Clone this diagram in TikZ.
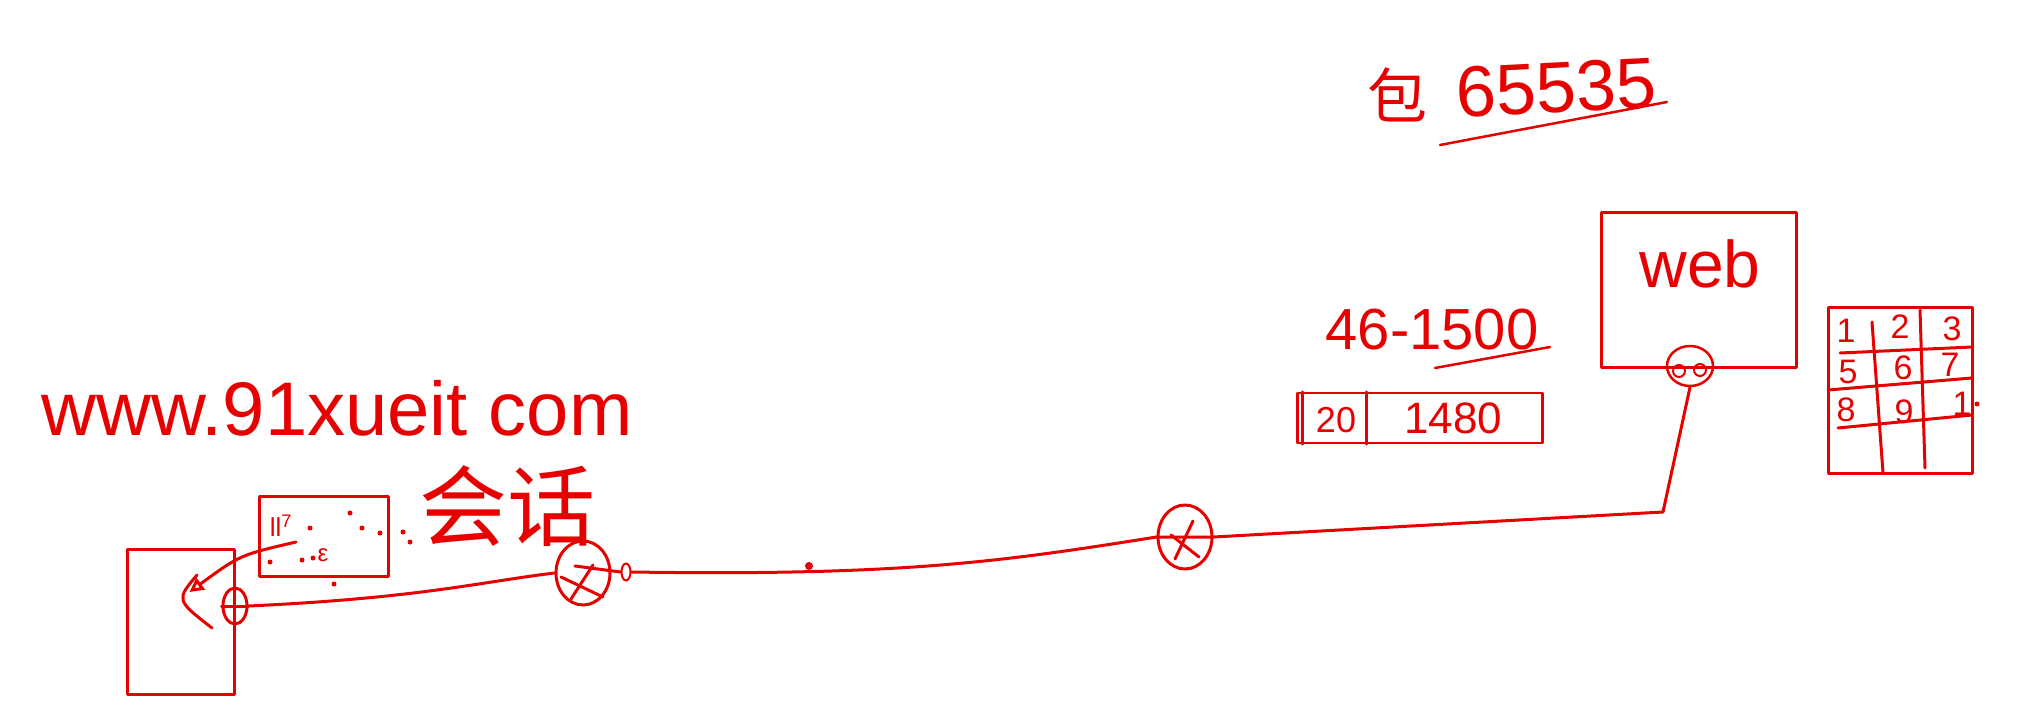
\documentclass[tikz,border=0pt]{standalone}
\usepackage{fontspec}
\setmainfont{Liberation Sans}
\newfontfamily\cjk{Noto Sans CJK SC}
\usetikzlibrary{shapes.geometric,arrows.meta}
\definecolor{pen}{RGB}{230,0,0}
\newcommand{\fs}[1]{\fontsize{#1}{#1}\selectfont}

\begin{document}
\begin{tikzpicture}[x=1pt, y=-1pt, line width=3pt, color=pen, line join=round, line cap=round, >={Triangle[open,length=14pt,width=14pt]}]
	\tikzset{box/.style={draw, inner sep=0pt},
		port/.style={draw, ellipse, inner sep=0pt}}
	\useasboundingbox (0,0) rectangle (2030,714);
	% client and session
	\node[box, minimum width=107pt, minimum height=145pt] (pc) at (181,622) {};
	\node[box, minimum width=129pt, minimum height=80pt] (sess) at (324,536) {};
	\node[port, minimum width=24pt, minimum height=36pt] (pL) at (235,606) {};
	\draw (pL.west) -- (pL.east);
	\node[font=\fs{26}] (sesstxt) at (281,526) {ll\textsuperscript{7}};
	\node[font=\fs{24}] (eps) at (323,555) {ε};
	\foreach \p in {(350,513),(362,528),(380,533),(310,528),(302,560),(313,558),(270,562),(403,532),(410,542),(334,584)}
		\fill \p circle (2.5);
	\draw[->] ([shift={(-28,6)}]sess.center) .. controls (240,555) .. ([shift={(-32,-14)}]pL.west);
	\draw (197,575) .. controls (176,600) .. (212,628);
	\node[font=\fs{76}] (url) at (337,408) {www.91xueit com};
	\node[font=\cjk\fs{88}] (conv) at (507,506) {会话};
	% routers and line
	\node[port, minimum width=54pt, minimum height=64pt] (r1) at (583,573) {};
	\node[port, minimum width=9pt, minimum height=17pt, line width=2pt] (o1) at (626,572) {};
	\node[port, minimum width=54pt, minimum height=64pt] (r2) at (1185,537) {};
	\node[circle, fill, inner sep=0pt, minimum size=8pt] (m) at (809,566) {};
	\draw ([shift={(-22,4)}]r1.center) -- ([shift={(20,24)}]r1.center);
	\draw ([shift={(10,-8)}]r1.center) -- ([shift={(-12,26)}]r1.center);
	\draw ([shift={(-8,-7)}]r1.center) -- (o1.west);
	\draw (pL.east) .. controls (420,598) and (480,582) .. (r1.west);
	\draw (o1.east) .. controls (900,576) and (1000,562) .. (r2.west);
	\draw ([shift={(-14,-2)}]r2.center) -- ([shift={(14,20)}]r2.center);
	\draw ([shift={(8,-16)}]r2.center) -- ([shift={(-10,22)}]r2.center);
	% web server
	\node[box, minimum width=195pt, minimum height=155pt] (web) at (1699,290) {};
	\node[font=\fs{66}] (webtxt) at (1700,264) {web};
	\node[port, minimum width=46pt, minimum height=40pt, line width=2.5pt] (pW) at (1690,366) {};
	\draw[line width=2pt] (1679,371) circle (6) (1700,370) circle (6);
	\coordinate (bend) at (1663,512);
	\draw (r2.west) -- (r2.east) -- (bend) -- (pW.south);
	% packet sizes
	\node[font=\cjk\fs{60}] (pk) at (1397,95) {包};
	\node[font=\fs{72}, rotate=3] (max) at (1556,88) {65535};
	\draw[line width=2.5pt] (1440,145) -- (1667,102);
	\node[font=\fs{58}] (mtu) at (1432,330) {46-1500};
	\draw[line width=2.5pt] (1435,368) -- (1550,347);
	\node[box, minimum width=245pt, minimum height=50pt, line width=2.5pt] (frm) at (1420,418) {};
	\draw[line width=2.5pt] ([xshift=6pt]frm.north west) -- ([xshift=6pt]frm.south west);
	\draw[line width=2.5pt] ([xshift=70pt]frm.north west) -- ([xshift=70pt]frm.south west);
	\node[font=\fs{36}] (hdr) at (1336,420) {20};
	\node[font=\fs{44}] (data) at (1453,418) {1480};
	% reassembly grid
	\node[box, minimum width=144pt, minimum height=166pt] (grid) at (1900,390) {};
	\draw (1872,322) -- (1883,473) (1920,310) -- (1925,468);
	\draw (1840,353) -- (1972,347) (1828,390) -- (1972,378) (1838,428) -- (1972,415);
	\foreach \lab/\cx/\cy in {1/1846/331, 2/1900/327, 3/1952/329, 5/1848/372, 6/1903/368, 7/1950/365, 8/1846/410, 9/1904/412, 1/1962/404}
		\node[font=\fs{34}] at (\cx,\cy) {\lab};
	\fill (1977,404) circle (2.5);
\end{tikzpicture}
\end{document}
